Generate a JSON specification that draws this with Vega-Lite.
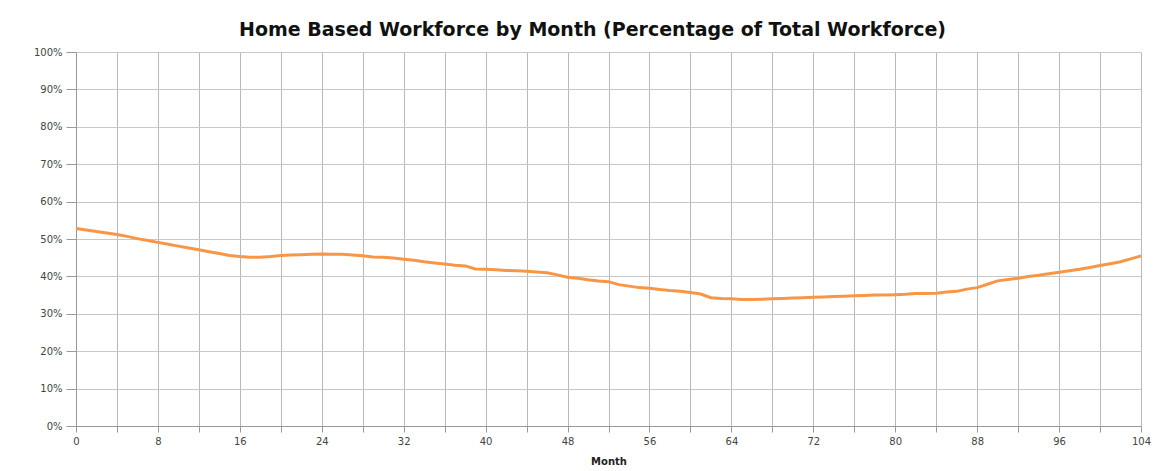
{
  "$schema": "https://vega.github.io/schema/vega-lite/v6.json",
  "autosize": {"type": "none"},
  "width": 1065,
  "height": 374,
  "padding": {"left": 76, "top": 52, "right": 22, "bottom": 45},
  "background": "white",
  "title": {
    "text": "Home Based Workforce by Month (Percentage of Total Workforce)",
    "font": "DejaVu Sans",
    "fontSize": 19,
    "fontWeight": "bold",
    "color": "#111111",
    "anchor": "middle",
    "dx": -16,
    "offset": 7
  },
  "config": {
    "view": {"stroke": null},
    "axis": {
      "labelFont": "DejaVu Sans",
      "labelFontSize": 10,
      "labelColor": "#444444",
      "titleFont": "DejaVu Sans",
      "titleFontSize": 10,
      "titleFontWeight": "bold",
      "titleColor": "#222222",
      "domainColor": "#999999",
      "tickColor": "#999999"
    }
  },
  "data": {
    "values": [
      {"month": 0, "pct": 52.8}, {"month": 1, "pct": 52.4}, {"month": 2, "pct": 52.0}, {"month": 3, "pct": 51.6},
      {"month": 4, "pct": 51.2}, {"month": 5, "pct": 50.7}, {"month": 6, "pct": 50.1}, {"month": 7, "pct": 49.6},
      {"month": 8, "pct": 49.1}, {"month": 9, "pct": 48.6}, {"month": 10, "pct": 48.1}, {"month": 11, "pct": 47.6},
      {"month": 12, "pct": 47.1}, {"month": 13, "pct": 46.6}, {"month": 14, "pct": 46.1}, {"month": 15, "pct": 45.6},
      {"month": 16, "pct": 45.3}, {"month": 17, "pct": 45.1}, {"month": 18, "pct": 45.1}, {"month": 19, "pct": 45.3},
      {"month": 20, "pct": 45.6}, {"month": 21, "pct": 45.7}, {"month": 22, "pct": 45.8}, {"month": 23, "pct": 45.9},
      {"month": 24, "pct": 46.0}, {"month": 25, "pct": 45.9}, {"month": 26, "pct": 45.9}, {"month": 27, "pct": 45.7},
      {"month": 28, "pct": 45.5}, {"month": 29, "pct": 45.2}, {"month": 30, "pct": 45.1}, {"month": 31, "pct": 44.9},
      {"month": 32, "pct": 44.6}, {"month": 33, "pct": 44.3}, {"month": 34, "pct": 43.9}, {"month": 35, "pct": 43.6},
      {"month": 36, "pct": 43.3}, {"month": 37, "pct": 43.0}, {"month": 38, "pct": 42.8}, {"month": 39, "pct": 42.0},
      {"month": 40, "pct": 41.9}, {"month": 41, "pct": 41.8}, {"month": 42, "pct": 41.6}, {"month": 43, "pct": 41.5},
      {"month": 44, "pct": 41.4}, {"month": 45, "pct": 41.2}, {"month": 46, "pct": 41.0}, {"month": 47, "pct": 40.4},
      {"month": 48, "pct": 39.8}, {"month": 49, "pct": 39.5}, {"month": 50, "pct": 39.1}, {"month": 51, "pct": 38.8},
      {"month": 52, "pct": 38.6}, {"month": 53, "pct": 37.8}, {"month": 54, "pct": 37.4}, {"month": 55, "pct": 37.0},
      {"month": 56, "pct": 36.8}, {"month": 57, "pct": 36.5}, {"month": 58, "pct": 36.2}, {"month": 59, "pct": 36.0},
      {"month": 60, "pct": 35.7}, {"month": 61, "pct": 35.3}, {"month": 62, "pct": 34.3}, {"month": 63, "pct": 34.1},
      {"month": 64, "pct": 34.0}, {"month": 65, "pct": 33.8}, {"month": 66, "pct": 33.8}, {"month": 67, "pct": 33.9},
      {"month": 68, "pct": 34.0}, {"month": 69, "pct": 34.1}, {"month": 70, "pct": 34.2}, {"month": 71, "pct": 34.3},
      {"month": 72, "pct": 34.4}, {"month": 73, "pct": 34.5}, {"month": 74, "pct": 34.6}, {"month": 75, "pct": 34.7},
      {"month": 76, "pct": 34.8}, {"month": 77, "pct": 34.9}, {"month": 78, "pct": 35.0}, {"month": 79, "pct": 35.0},
      {"month": 80, "pct": 35.1}, {"month": 81, "pct": 35.2}, {"month": 82, "pct": 35.4}, {"month": 83, "pct": 35.4},
      {"month": 84, "pct": 35.5}, {"month": 85, "pct": 35.8}, {"month": 86, "pct": 36.0}, {"month": 87, "pct": 36.6},
      {"month": 88, "pct": 37.0}, {"month": 89, "pct": 37.9}, {"month": 90, "pct": 38.8}, {"month": 91, "pct": 39.2},
      {"month": 92, "pct": 39.5}, {"month": 93, "pct": 40.0}, {"month": 94, "pct": 40.3}, {"month": 95, "pct": 40.7},
      {"month": 96, "pct": 41.1}, {"month": 97, "pct": 41.5}, {"month": 98, "pct": 41.9}, {"month": 99, "pct": 42.4},
      {"month": 100, "pct": 42.9}, {"month": 101, "pct": 43.4}, {"month": 102, "pct": 43.9}, {"month": 103, "pct": 44.7},
      {"month": 104, "pct": 45.5}
    ]
  },
  "mark": {"type": "line", "color": "#F79646", "strokeWidth": 3, "interpolate": "linear"},
  "encoding": {
    "x": {
      "field": "month",
      "type": "quantitative",
      "title": "Month",
      "scale": {"domain": [0, 104], "nice": false, "zero": false},
      "axis": {
        "values": [0, 4, 8, 12, 16, 20, 24, 28, 32, 36, 40, 44, 48, 52, 56, 60, 64, 68, 72, 76, 80, 84, 88, 92, 96, 100, 104],
        "labelExpr": "datum.value % 8 === 0 ? datum.label : ''",
        "grid": true,
        "gridColor": "#b8b8b8",
        "gridWidth": 1,
        "tickSize": 6,
        "labelPadding": 4,
        "titlePadding": 10,
        "labelFlush": false
      }
    },
    "y": {
      "field": "pct",
      "type": "quantitative",
      "title": null,
      "scale": {"domain": [0, 100], "nice": false},
      "axis": {
        "values": [0, 10, 20, 30, 40, 50, 60, 70, 80, 90, 100],
        "labelExpr": "datum.value + '%'",
        "grid": true,
        "gridColor": "#c8c8c8",
        "gridWidth": 1,
        "tickSize": 10,
        "labelPadding": 4
      }
    }
  }
}
